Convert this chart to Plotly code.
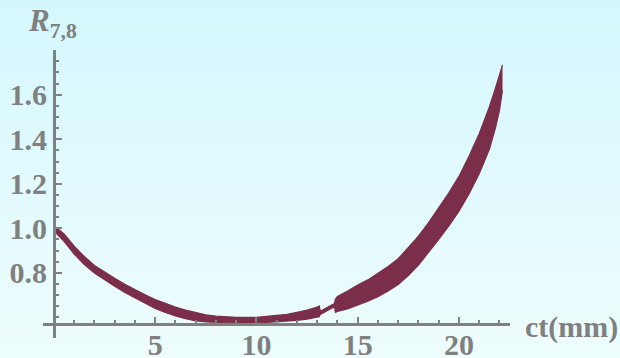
import plotly.graph_objects as go

# ---- data ----
ct_mm = [0.0, 0.5, 1.0, 1.5, 2.0, 2.5, 3.0, 3.5, 4.0, 4.5, 5.0, 5.5, 6.0, 6.5, 7.0, 7.5,
         8.0, 9.0, 10.0, 11.0, 11.5, 12.0, 12.5, 13.0, 13.1, 13.15, 13.85, 13.9, 14.0,
         14.5, 15.0, 15.5, 16.0, 16.5, 17.0, 17.5, 18.0, 18.5, 19.0, 19.5, 20.0, 20.5,
         21.0, 21.5, 21.8, 22.0, 22.15]
r78_lower = [0.988, 0.941, 0.884, 0.837, 0.799, 0.768, 0.739, 0.712, 0.687, 0.663, 0.640,
             0.622, 0.606, 0.594, 0.584, 0.579, 0.577, 0.574, 0.574, 0.579, 0.581, 0.586,
             0.592, 0.602, 0.603, 0.613, 0.648, 0.622, 0.626, 0.638, 0.655, 0.672, 0.693,
             0.718, 0.747, 0.788, 0.835, 0.890, 0.950, 1.011, 1.077, 1.155, 1.245, 1.355,
             1.450, 1.530, 1.620]
r78_upper = [1.012, 0.975, 0.920, 0.873, 0.833, 0.802, 0.775, 0.748, 0.723, 0.701, 0.680,
             0.662, 0.646, 0.632, 0.620, 0.611, 0.605, 0.600, 0.600, 0.607, 0.613, 0.622,
             0.632, 0.646, 0.651, 0.627, 0.662, 0.682, 0.694, 0.718, 0.745, 0.768, 0.797,
             0.828, 0.863, 0.912, 0.965, 1.026, 1.090, 1.159, 1.233, 1.325, 1.425, 1.545,
             1.630, 1.690, 1.734]

x_major_ticks = [5, 10, 15, 20]
x_minor_ticks = list(range(0, 23))
y_major_ticks = [0.8, 1.0, 1.2, 1.4, 1.6]
y_major_text = ["0.8", "1.0", "1.2", "1.4", "1.6"]
y_minor_ticks = [0.6 + 0.05 * i for i in range(24)]

# ---- styles ----
CURVE = "rgb(122,46,74)"
GRAY = "rgb(128,128,128)"
FONT = "Liberation Serif"

fig = go.Figure()
fig.add_trace(go.Scatter(x=ct_mm, y=r78_lower, mode="lines",
                         line=dict(color=CURVE, width=1.2), hoverinfo="skip",
                         showlegend=False))
fig.add_trace(go.Scatter(x=ct_mm, y=r78_upper, mode="lines", fill="tonexty",
                         fillcolor=CURVE, line=dict(color=CURVE, width=1.2),
                         hoverinfo="skip", showlegend=False))

# vertical background gradient (top light cyan -> bottom near white)
top = (211, 247, 253)
bot = (239, 253, 253)
n = 48
y0p, y1p = -0.12, 1.22
shapes = []
for i in range(n):
    t = i / (n - 1)
    c = tuple(round(top[k] + (bot[k] - top[k]) * t) for k in range(3))
    ya = y1p - (y1p - y0p) * i / n
    yb = y1p - (y1p - y0p) * (i + 1) / n - 0.01
    shapes.append(dict(type="rect", xref="paper", yref="paper", x0=-0.2, x1=1.3,
                       y0=yb, y1=ya, fillcolor="rgb(%d,%d,%d)" % c,
                       line=dict(width=0), layer="below"))

fig.update_layout(
    width=620, height=358,
    margin=dict(l=43, r=110, t=50, b=20, autoexpand=False),
    paper_bgcolor="rgb(239,253,253)",
    plot_bgcolor="rgba(0,0,0,0)",
    shapes=shapes,
    showlegend=False,
    xaxis=dict(range=[-0.54, 22.52], anchor="free", position=0.0503, automargin=False,
               showgrid=False, zeroline=False, showline=True, linecolor=GRAY,
               linewidth=3, ticks="inside", ticklen=6, tickwidth=2, tickcolor=GRAY,
               tickmode="array", tickvals=x_major_ticks, ticklabelstandoff=-7,
               tickfont=dict(family=FONT, size=30, color=GRAY, weight="bold"),
               minor=dict(tickmode="array", tickvals=x_minor_ticks, ticks="inside",
                          ticklen=3, tickwidth=2, tickcolor=GRAY, showgrid=False)),
    yaxis=dict(range=[0.507, 1.801], anchor="free", position=0.0236, automargin=False,
               showgrid=False, zeroline=False, showline=True, linecolor=GRAY,
               linewidth=3, ticks="inside", ticklen=6, tickwidth=2, tickcolor=GRAY,
               tickmode="array", tickvals=y_major_ticks, ticktext=y_major_text,
               tickfont=dict(family=FONT, size=30, color=GRAY, weight="bold"),
               minor=dict(tickmode="array", tickvals=y_minor_ticks, ticks="inside",
                          ticklen=3, tickwidth=2, tickcolor=GRAY, showgrid=False)),
    annotations=[
        dict(text="ct(mm)", xref="paper", yref="paper", x=1.0, y=0.0503,
             xanchor="left", yanchor="middle", xshift=13, yshift=-3, showarrow=False,
             font=dict(family=FONT, size=30, color=GRAY, weight="bold")),
        dict(text="<i>R</i><sub>7,8</sub>", xref="paper", yref="paper", x=-0.036,
             y=1.095, xanchor="left", yanchor="middle", showarrow=False,
             font=dict(family=FONT, size=31, color=GRAY, weight="bold")),
    ],
)

fig.write_html("out.html", config={"displayModeBar": False},
               post_script="document.body.style.margin='0';document.body.style.overflow='hidden';")
